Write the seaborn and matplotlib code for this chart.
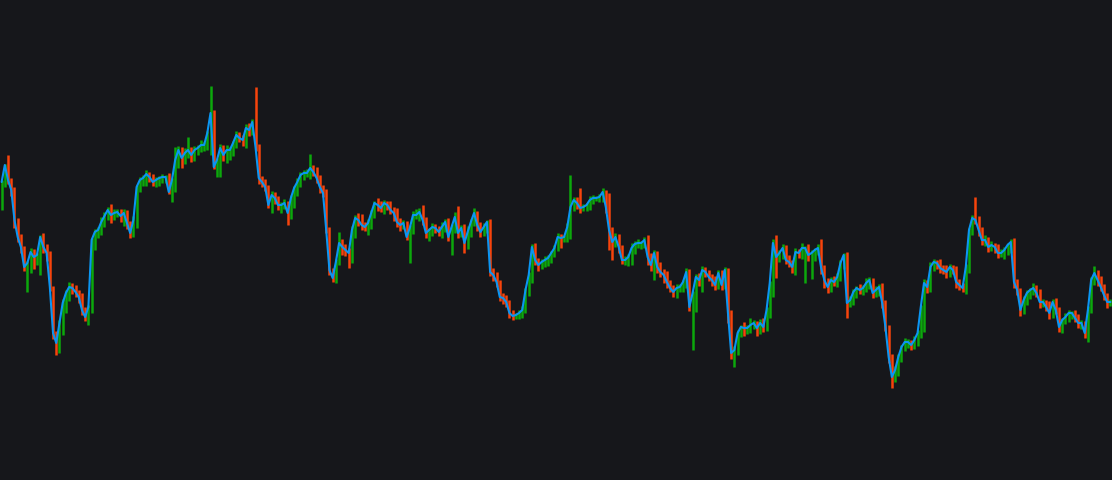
"""Price bars with close line on a dark chart, no axes."""

import matplotlib

matplotlib.use("Agg")
import matplotlib.pyplot as plt
import numpy as np
import pandas as pd
import seaborn as sns

BG = "#16171b"
UP = "#0ca80c"
DOWN = "#f7440c"
LINE = "#0b95f2"

CLOSE_DEPTH = (
    [182, 165, 180, 190, 220, 237, 247, 267, 263, 252,
     257, 255, 237, 247, 253, 287, 333, 343, 323, 303,
     293, 287, 288, 292, 297, 310, 317, 307, 240, 232,
     230, 222, 216, 210, 215, 213, 212, 216, 213, 223,
     233, 220, 187, 180]
    + [178, 174, 177, 182, 180, 178, 177, 177, 192, 180,
       160, 150, 158, 153, 150, 155, 150, 148, 145, 145,
       133, 113, 167, 160, 148, 155, 150, 150, 143, 135,
       138, 140, 128, 130, 122, 147, 178, 182, 187, 205,
       195, 198, 205]
    + [205, 203, 213, 198, 188, 182, 175, 173, 173, 168,
       172, 178, 187, 193, 230, 270, 278, 262, 243, 247,
       250, 253, 230, 218, 220, 225, 227, 223, 213, 203,
       205, 208, 203, 205, 210, 213, 222, 225, 223, 237,
       228, 215, 215]
    + [212, 220, 233, 230, 227, 228, 232, 227, 222, 237,
       227, 217, 233, 228, 243, 232, 222, 213, 225, 232,
       227, 222, 272, 275, 282, 297, 298, 302, 313, 316,
       315, 313, 310, 290, 275, 247, 260, 265, 262, 260,
       258, 253, 248, 237]
    + [238, 237, 227, 207, 200, 203, 208, 207, 205, 200,
       198, 198, 197, 192, 207, 230, 242, 237, 247, 260,
       260, 257, 248, 244, 243, 243, 240, 257, 265, 253,
       267, 272, 275, 282, 288, 292, 288, 287, 282, 272,
       307, 293, 277, 280]
    + [270, 272, 277, 280, 285, 273, 285, 270, 313, 353,
       350, 333, 327, 328, 328, 325, 323, 328, 323, 327,
       310, 283, 243, 257, 253, 248, 260, 262, 267, 252,
       253, 248, 248, 255, 253, 250, 248, 268, 280, 287,
       280, 282]
    + [277, 263, 255, 303, 300, 292, 288, 290, 288, 283,
       280, 293, 290, 287, 303, 327, 357, 377, 370, 357,
       347, 342, 342, 345, 340, 333, 307, 283, 287, 267,
       262, 263, 268, 270, 272, 267, 270, 282, 285, 288,
       267, 230, 218, 220, 230, 240]
    + [240, 247, 245, 247, 253, 253, 250, 245, 242, 282,
       290, 310, 300, 293, 290, 288, 293, 302, 302, 307,
       313, 302, 310, 327, 320, 317, 313, 313, 318, 323,
       323, 333, 310, 280, 273, 280, 287, 295, 302, 302]
)

# wick length above the bar body
WICK_UP = (
    [2, 1, 10, 2, 3, 2, 3, 1, 2, 4, 3, 2, 2, 4, 3, 2, 1, 2, 3, 4,
     3, 5, 4, 3, 2, 4, 3, 2, 2, 3, 3, 5, 4, 3, 6, 4, 3, 3, 4, 3,
     2, 4, 2, 3]
    + [3, 4, 2, 3, 3, 2, 3, 2, 4, 2, 13, 4, 3, 5, 13, 3, 4, 3, 5, 3,
       2, 27, 3, 2, 4, 3, 5, 3, 2, 4, 3, 3, 4, 5, 3, 35, 3, 2, 3, 2,
       4, 3, 2]
    + [3, 4, 2, 3, 2, 4, 3, 3, 4, 14, 3, 5, 3, 2, 4, 3, 2, 3, 11, 4,
       3, 2, 4, 3, 5, 6, 3, 4, 3, 2, 5, 4, 3, 2, 4, 3, 5, 4, 3, 2,
       3, 4, 6]
    + [4, 7, 3, 2, 4, 3, 2, 5, 3, 4, 3, 5, 11, 3, 4, 6, 3, 5, 2, 3,
       4, 2, 3, 4, 3, 2, 4, 3, 2, 3, 2, 3, 4, 2, 3, 3, 4, 2, 3, 4,
       3, 2, 3, 4]
    + [3, 2, 4, 32, 3, 3, 15, 3, 2, 4, 3, 2, 3, 4, 2, 14, 3, 4, 3, 2,
       4, 3, 5, 3, 4, 2, 3, 5, 4, 3, 2, 5, 3, 4, 2, 3, 4, 3, 2, 4,
       3, 2, 3, 4]
    + [4, 3, 2, 3, 4, 3, 3, 3, 2, 3, 4, 3, 2, 5, 3, 7, 3, 2, 4, 5,
       3, 2, 4, 8, 3, 4, 3, 5, 2, 4, 3, 5, 2, 4, 3, 2, 4, 9, 3, 2,
       3, 4]
    + [4, 3, 2, 3, 4, 3, 2, 4, 3, 5, 3, 2, 4, 3, 4, 3, 2, 3, 4, 3,
       2, 4, 3, 2, 4, 3, 2, 4, 3, 5, 3, 2, 4, 3, 5, 3, 2, 4, 3, 2,
       3, 2, 3, 21, 4, 3]
    + [5, 3, 4, 2, 3, 4, 3, 2, 3, 4, 3, 2, 4, 3, 2, 5, 3, 4, 3, 2,
       6, 3, 4, 3, 2, 4, 3, 2, 3, 4, 3, 2, 4, 3, 7, 3, 4, 3, 2, 3]
)

# wick length below the bar body
WICK_DOWN = (
    [20, 5, 4, 6, 8, 5, 6, 4, 25, 10, 12, 8, 20, 6, 8, 4, 6, 12, 10, 12,
     10, 8, 6, 5, 6, 5, 4, 8, 6, 10, 6, 5, 5, 4, 8, 5, 4, 6, 10, 6,
     5, 4, 8, 5]
    + [6, 8, 5, 4, 5, 6, 5, 6, 2, 10, 12, 8, 10, 6, 5, 7, 6, 5, 4, 6,
       5, 22, 2, 10, 17, 6, 8, 10, 6, 5, 4, 6, 8, 6, 5, 4, 6, 5, 4, 3,
       8, 6, 5]
    + [8, 4, 12, 6, 10, 8, 5, 5, 4, 6, 4, 5, 6, 4, 3, 5, 4, 5, 3, 8,
       6, 15, 10, 8, 6, 5, 4, 8, 6, 5, 6, 4, 6, 5, 4, 8, 5, 6, 4, 3,
       26, 6, 4]
    + [6, 5, 5, 8, 6, 5, 4, 6, 5, 4, 18, 6, 5, 4, 10, 6, 5, 4, 6, 5,
       4, 6, 4, 6, 5, 4, 6, 5, 5, 4, 3, 4, 5, 3, 6, 8, 5, 6, 4, 5,
       6, 5, 4, 3]
    + [10, 4, 5, 12, 4, 6, 5, 3, 4, 5, 4, 3, 4, 5, 6, 20, 18, 5, 6, 4,
       5, 6, 8, 6, 4, 6, 5, 8, 6, 15, 6, 5, 8, 6, 4, 5, 6, 4, 5, 6,
       4, 43, 19, 6]
    + [12, 5, 4, 6, 5, 4, 5, 4, 10, 6, 14, 5, 4, 8, 6, 5, 4, 8, 6, 5,
       4, 8, 14, 21, 5, 6, 4, 5, 6, 8, 5, 6, 35, 6, 24, 8, 5, 6, 8, 6,
       5, 4]
    + [5, 4, 6, 15, 4, 5, 6, 4, 5, 4, 6, 5, 4, 6, 5, 4, 6, 11, 5, 6,
       5, 4, 6, 5, 4, 6, 5, 25, 6, 5, 4, 6, 5, 4, 6, 5, 4, 6, 5, 4,
       6, 6, 5, 4, 6, 5]
    + [6, 5, 4, 6, 5, 4, 6, 5, 8, 6, 5, 6, 4, 5, 6, 5, 4, 6, 5, 4,
       6, 5, 4, 5, 6, 4, 5, 6, 4, 5, 6, 5, 9, 3, 5, 6, 4, 5, 6, 4]
)


def build_bars() -> pd.DataFrame:
    close = 480 - np.array(CLOSE_DEPTH, dtype=float)
    opn = np.r_[close[0] - 8, close[:-1]]
    df = pd.DataFrame({"bar": np.arange(len(close)), "open": opn, "close": close})
    df["high"] = np.maximum(df["open"], df["close"]) + np.array(WICK_UP)
    df["low"] = np.minimum(df["open"], df["close"]) - np.array(WICK_DOWN)
    df["rising"] = df["close"] >= df["open"]
    return df


def main() -> None:
    df = build_bars()

    sns.set_theme(style="dark", rc={"axes.facecolor": BG, "figure.facecolor": BG})
    fig = plt.figure(figsize=(11.12, 4.8), dpi=100)
    ax = fig.add_axes([0, 0, 1, 1])
    ax.set_facecolor(BG)

    colors = np.where(df["rising"], UP, DOWN)
    ax.vlines(df["bar"], df["low"], df["high"], colors=colors, linewidth=1.8, zorder=2)
    sns.lineplot(data=df, x="bar", y="close", color=LINE, linewidth=1.5, ax=ax, zorder=3)

    ax.set_xlim(-0.5, len(df) - 0.5)
    ax.set_ylim(0, 480)
    ax.axis("off")

    fig.savefig("out.png", dpi=100, facecolor=BG)
    plt.close(fig)


if __name__ == "__main__":
    main()
